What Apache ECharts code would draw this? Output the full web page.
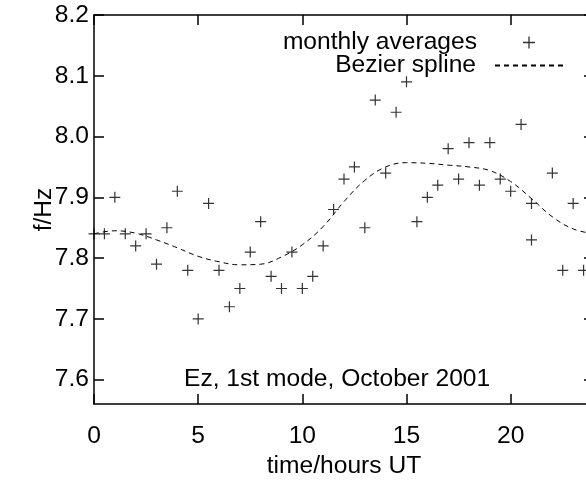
<!DOCTYPE html>
<html>
<head>
<meta charset="utf-8">
<script src="https://cdn.jsdelivr.net/npm/echarts@6/dist/echarts.min.js"></script>
<style>
html, body { margin: 0; padding: 0; background: #fff; }
#chart { width: 586px; height: 480px; }
</style>
</head>
<body>
<div id="chart"></div>
<script>
// monthly averages (hour UT, frequency)
var hours = [0, 0.5, 1, 1.5, 2, 2.5, 3, 3.5, 4, 4.5, 5, 5.5, 6, 6.5, 7, 7.5, 8, 8.5, 9, 9.5,
    10, 10.5, 11, 11.5, 12, 12.5, 13, 13.5, 14, 14.5, 15, 15.5, 16, 16.5, 17, 17.5, 18, 18.5,
    19, 19.5, 20, 20.5, 21, 21, 22, 22.5, 23, 23.5];
var freqs = [7.84, 7.84, 7.90, 7.84, 7.82, 7.84, 7.79, 7.85, 7.91, 7.78, 7.70, 7.89, 7.78, 7.72, 7.75, 7.81, 7.86, 7.77, 7.75, 7.81,
    7.75, 7.77, 7.82, 7.88, 7.93, 7.95, 7.85, 8.06, 7.94, 8.04, 8.09, 7.86, 7.90, 7.92, 7.98, 7.93, 7.99, 7.92,
    7.99, 7.93, 7.91, 8.02, 7.89, 7.83, 7.94, 7.78, 7.89, 7.78];

// bezier spline
var splineHours = [0, 1, 2, 3, 4, 5, 6, 7, 8, 9, 10, 11, 12, 13, 14, 15, 16, 17, 18, 19, 20, 21, 22, 23, 24];
var splineFreqs = [7.840, 7.845, 7.841, 7.830, 7.817, 7.803, 7.794, 7.789, 7.790, 7.802, 7.822, 7.852, 7.893,
    7.928, 7.950, 7.957, 7.956, 7.953, 7.950, 7.944, 7.926, 7.898, 7.868, 7.848, 7.840];

var yTicks = [7.6, 7.7, 7.8, 7.9, 8.0, 8.1, 8.2];

var plusPath = 'path://M0,4.45h10v1.1h-10z M4.45,0h1.1v10h-1.1z';
var font = 'Liberation Sans';
var fs = 24.6;

var scatterData = hours.map(function (h, i) { return [h, freqs[i]]; });
var splineData = splineHours.map(function (h, i) { return [h, splineFreqs[i]]; });

var chart = echarts.init(document.getElementById('chart'), null, {renderer: 'canvas'});
var option = {
    animation: false,
    textStyle: {fontFamily: font, color: '#000'},
    grid: {left: 94, right: -8, top: 15, bottom: 76, outerBoundsMode: 'none', containLabel: false},
    title: {
        text: 'Ez, 1st mode, October 2001',
        left: 179, top: 362,
        textStyle: {fontFamily: font, fontSize: fs, fontWeight: 'normal', color: '#000'}
    },
    legend: [
        {
            data: [{name: 'monthly averages', icon: plusPath}],
            right: 46, top: 25,
            align: 'right',
            itemWidth: 12, itemHeight: 12,
            textStyle: {fontFamily: font, fontSize: fs, color: '#000', padding: [0, 41, 0, 0]}
        },
        {
            data: ['Bezier spline'],
            right: 14, top: 48,
            align: 'right',
            itemWidth: 71, itemHeight: 12,
            itemStyle: {opacity: 0},
            textStyle: {fontFamily: font, fontSize: fs, color: '#000', padding: [0, 14, 0, 0]}
        }
    ],
    xAxis: [
        {
            type: 'value', min: 0, max: 24, interval: 5,
            name: 'time/hours UT', nameLocation: 'middle', nameGap: 50,
            nameTextStyle: {fontFamily: font, fontSize: fs, color: '#000'},
            axisLine: {onZero: false, lineStyle: {color: '#000', width: 1.5}},
            axisTick: {inside: true, length: 10, lineStyle: {color: '#000', width: 1.5}},
            axisLabel: {margin: 20, fontFamily: font, fontSize: fs, color: '#000', showMaxLabel: false},
            splitLine: {show: false}
        },
        {
            type: 'value', min: 0, max: 24, interval: 5, position: 'top',
            axisLine: {onZero: false, lineStyle: {color: '#000', width: 1.5}},
            axisTick: {inside: true, length: 10, lineStyle: {color: '#000', width: 1.5}},
            axisLabel: {show: false},
            splitLine: {show: false}
        }
    ],
    yAxis: [
        {
            type: 'value', min: 7.56, max: 8.2,
            name: 'f/Hz', nameLocation: 'middle', nameGap: 37, nameMoveOverlap: false,
            nameTextStyle: {fontFamily: font, fontSize: fs, color: '#000'},
            axisLine: {show: true, onZero: false, lineStyle: {color: '#000', width: 1.5}},
            axisTick: {show: true, inside: true, length: 10, customValues: yTicks, lineStyle: {color: '#000', width: 1.5}},
            axisLabel: {
                margin: 5, fontFamily: font, fontSize: fs, color: '#000', customValues: yTicks,
                formatter: function (v) { return v.toFixed(1); }
            },
            splitLine: {show: false}
        },
        {
            type: 'value', min: 7.56, max: 8.2, position: 'right',
            axisLine: {show: true, onZero: false, lineStyle: {color: '#000', width: 1.5}},
            axisTick: {show: true, inside: true, length: 10, customValues: yTicks, lineStyle: {color: '#000', width: 1.5}},
            axisLabel: {show: false},
            splitLine: {show: false}
        }
    ],
    series: [
        {
            name: 'monthly averages',
            type: 'scatter',
            data: scatterData,
            symbol: plusPath,
            symbolSize: 11,
            itemStyle: {color: '#000'},
            z: 3
        },
        {
            name: 'Bezier spline',
            type: 'line',
            data: splineData,
            smooth: 0.4,
            symbol: 'none',
            lineStyle: {color: '#000', width: 1, type: [5, 4]},
            itemStyle: {color: '#000'},
            z: 2
        }
    ]
};
chart.setOption(option);
</script>
</body>
</html>
